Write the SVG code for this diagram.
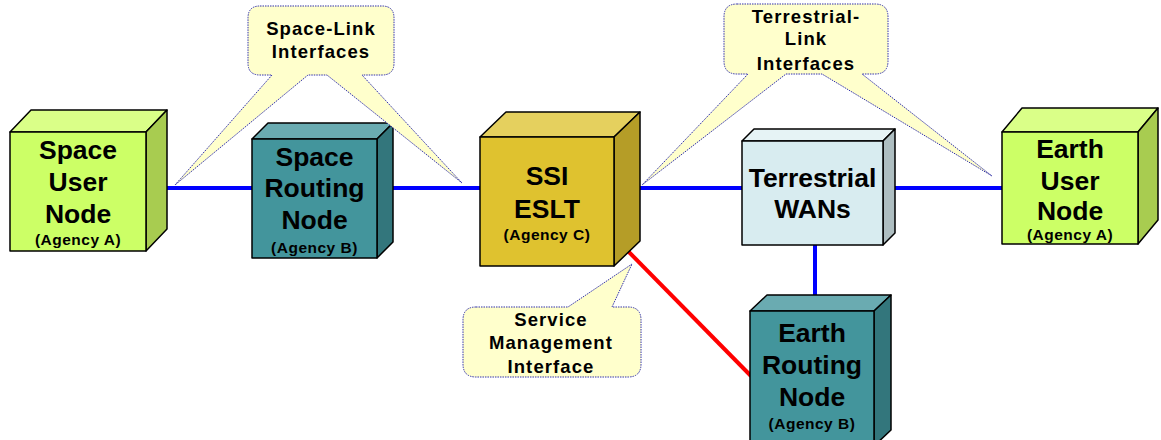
<svg xmlns="http://www.w3.org/2000/svg" width="1161" height="440" viewBox="0 0 1161 440">
<style>
.edge{stroke-width:1.5;stroke:#000;stroke-linejoin:round}
.big{font-family:"Liberation Sans",Arial,sans-serif;font-weight:bold;font-size:26.5px;text-anchor:middle;fill:#000}
.ag{font-family:"Liberation Sans",Arial,sans-serif;font-weight:bold;font-size:15.5px;text-anchor:middle;fill:#000;letter-spacing:0.5px}
.co{font-family:"Liberation Sans",Arial,sans-serif;font-weight:bold;font-size:18.5px;text-anchor:middle;fill:#000;letter-spacing:1.1px}
.callout{fill:#FFFFCC;stroke:#3333AA;stroke-width:1;stroke-dasharray:1.5 1}
.blue{stroke:#0000FF;stroke-width:4;fill:none}
.red{stroke:#FF0000;stroke-width:4;fill:none}
.lime .f{fill:#CCFF66}.lime .t{fill:#DAFF88}.lime .s{fill:#A8CC50}
.teal .f{fill:#43959C}.teal .t{fill:#6AABB1}.teal .s{fill:#33767C}
.gold .f{fill:#DFC22F}.gold .t{fill:#E5D05E}.gold .s{fill:#B59D27}
.ice .f{fill:#D8ECF0}.ice .t{fill:#E6F3F5}.ice .s{fill:#AEBEC1}
</style>
<g id="connectors">
<line class="blue" x1="146" y1="188" x2="252" y2="188"/>
<line class="blue" x1="377" y1="188" x2="480" y2="188"/>
<line class="blue" x1="614" y1="188" x2="742" y2="188"/>
<line class="blue" x1="883" y1="188" x2="1002" y2="188"/>
<line class="blue" x1="815" y1="245" x2="815" y2="311"/>
<line class="red" x1="622" y1="245" x2="751" y2="376"/>
</g>
<g id="space-user-node" class="lime">
<path class="edge t" d="M10,132 L31,110 L167,110 L146,132 Z"/>
<path class="edge s" d="M146,132 L167,110 L167,229 L146,251 Z"/>
<rect class="edge f" x="10" y="132" width="136" height="119"/>
<text class="big" x="78" y="159">Space</text>
<text class="big" x="78" y="191">User</text>
<text class="big" x="78" y="223">Node</text>
<text class="ag" x="78" y="245">(Agency A)</text>
</g>
<g id="space-routing-node" class="teal">
<path class="edge t" d="M252,139 L268,123 L393,123 L377,139 Z"/>
<path class="edge s" d="M377,139 L393,123 L393,242 L377,258 Z"/>
<rect class="edge f" x="252" y="139" width="125" height="119"/>
<text class="big" x="314.5" y="166">Space</text>
<text class="big" x="314.5" y="197">Routing</text>
<text class="big" x="314.5" y="229">Node</text>
<text class="ag" x="314.5" y="253">(Agency B)</text>
</g>
<g id="ssi-eslt" class="gold">
<path class="edge t" d="M480,137 L506,112 L640,112 L614,137 Z"/>
<path class="edge s" d="M614,137 L640,112 L640,241 L614,266 Z"/>
<rect class="edge f" x="480" y="137" width="134" height="129"/>
<text class="big" x="547" y="185">SSI</text>
<text class="big" x="547" y="218">ESLT</text>
<text class="ag" x="547" y="240">(Agency C)</text>
</g>
<g id="terrestrial-wans" class="ice">
<path class="edge t" d="M742,141 L754,129 L895,129 L883,141 Z"/>
<path class="edge s" d="M883,141 L895,129 L895,233 L883,245 Z"/>
<rect class="edge f" x="742" y="141" width="141" height="104"/>
<text class="big" x="812.5" y="187">Terrestrial</text>
<text class="big" x="812.5" y="218">WANs</text>
</g>
<g id="earth-user-node" class="lime">
<path class="edge t" d="M1002,132 L1022,108 L1158,108 L1138,132 Z"/>
<path class="edge s" d="M1138,132 L1158,108 L1158,220 L1138,244 Z"/>
<rect class="edge f" x="1002" y="132" width="136" height="112"/>
<text class="big" x="1070" y="158">Earth</text>
<text class="big" x="1070" y="190">User</text>
<text class="big" x="1070" y="220">Node</text>
<text class="ag" x="1070" y="240">(Agency A)</text>
</g>
<g id="earth-routing-node" class="teal">
<path class="edge t" d="M750,311 L767,295 L891,295 L874,311 Z"/>
<path class="edge s" d="M874,311 L891,295 L891,430 L874,446 Z"/>
<rect class="edge f" x="750" y="311" width="124" height="135"/>
<text class="big" x="812" y="342">Earth</text>
<text class="big" x="812" y="374">Routing</text>
<text class="big" x="812" y="406">Node</text>
<text class="ag" x="812" y="429">(Agency B)</text>
</g>
<g id="space-link-callout">
<path class="callout" d="M260,6 H382 Q394,6 394,18 V63 Q394,75 382,75 H362 L462,183 L327,75 H308 L175,185 L272,75 H260 Q248,75 248,63 V18 Q248,6 260,6 Z"/>
<text class="co" x="321" y="35">Space-Link</text>
<text class="co" x="321" y="58">Interfaces</text>
</g>
<g id="terrestrial-link-callout">
<path class="callout" d="M737,4 H875 Q888,4 888,17 V61 Q888,74 875,74 H862 L992,176 L822,74 H786 L642,185 L748,74 H737 Q724,74 724,61 V17 Q724,4 737,4 Z"/>
<text class="co" x="806" y="23">Terrestrial-</text>
<text class="co" x="806" y="45">Link</text>
<text class="co" x="806" y="70">Interfaces</text>
</g>
<g id="service-management-callout">
<path class="callout" d="M476,307 H568 L632,264 L612,307 H628 Q641,307 641,320 V364 Q641,377 628,377 H476 Q463,377 463,364 V320 Q463,307 476,307 Z"/>
<text class="co" x="551" y="326">Service</text>
<text class="co" x="551" y="349">Management</text>
<text class="co" x="551" y="373">Interface</text>
</g>
</svg>
